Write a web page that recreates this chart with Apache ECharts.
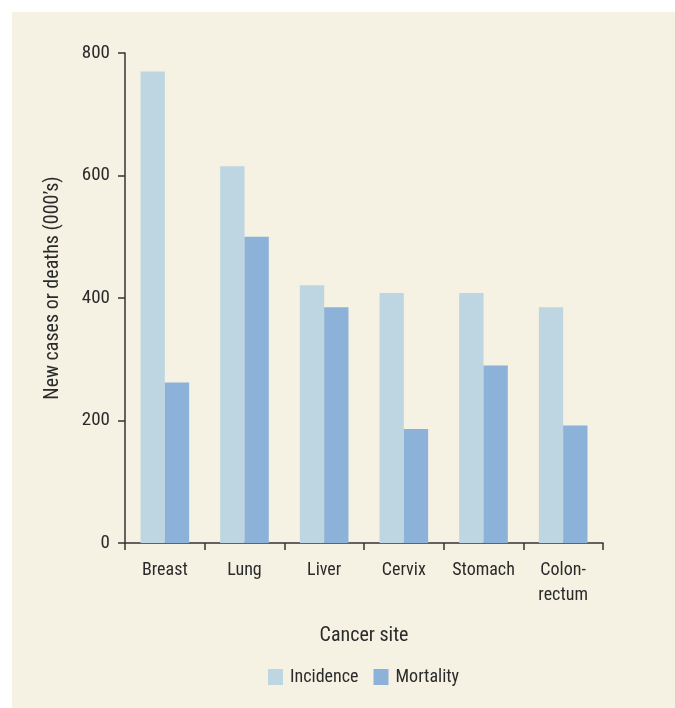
<!DOCTYPE html>
<html>
<head>
<meta charset="utf-8">
<script src="https://cdn.jsdelivr.net/npm/echarts@6/dist/echarts.min.js"></script>
<style>
html,body{margin:0;padding:0;background:#ffffff;}
#chart{width:675px;height:708px;}
</style>
</head>
<body>
<div id="chart"></div>
<script>
const categories = ['Breast', 'Lung', 'Liver', 'Cervix', 'Stomach', 'Colon-\nrectum'];
const incidence = [770, 615, 421, 408, 408, 385];
const mortality = [262, 500, 385, 186, 290, 192];
const yTicks = [0, 200, 400, 600, 800];

const FONT = '"Roboto Condensed", "Liberation Sans", sans-serif';
const TXT = '#2b2b2b';
const chart = echarts.init(document.getElementById('chart'));
chart.setOption({
  backgroundColor: '#ffffff',
  animation: false,
  textStyle: { fontFamily: FONT },
  graphic: [{
    type: 'rect', silent: true, z: -10,
    shape: { x: 12, y: 12, width: 663, height: 696 },
    style: { fill: '#f5f1e3' }
  }],
  grid: { left: 125, right: 72, top: 53, bottom: 165 },
  legend: {
    top: 663,
    left: 263,
    itemWidth: 15, itemHeight: 16, itemGap: 15,
    icon: 'rect',
    textStyle: { fontFamily: FONT, fontSize: 18, color: TXT, padding: [0, 0, 0, 2] },
    data: ['Incidence', 'Mortality']
  },
  xAxis: {
    type: 'category',
    data: categories,
    name: 'Cancer site',
    nameLocation: 'middle',
    nameGap: 83,
    nameTextStyle: { fontFamily: FONT, fontSize: 20, color: TXT },
    axisLine: { lineStyle: { color: '#333333', width: 1.5 } },
    axisTick: { show: true, length: 7, inside: false, lineStyle: { color: '#333333', width: 1.5 } },
    axisLabel: { interval: 0, fontFamily: FONT, fontSize: 18, color: TXT, margin: 15, lineHeight: 25 }
  },
  yAxis: {
    type: 'value',
    min: 0, max: 800, interval: 200,
    name: 'New cases or deaths (000\u2019s)',
    nameLocation: 'middle',
    nameGap: 62,
    nameTextStyle: { fontFamily: FONT, fontSize: 20, color: TXT, padding: [0, 0, 0, 20] },
    splitLine: { show: false },
    axisLine: { show: true, lineStyle: { color: '#333333', width: 1.5 } },
    axisTick: { show: true, length: 7, lineStyle: { color: '#333333', width: 1.5 } },
    axisLabel: {
      fontFamily: FONT, fontSize: 19, color: TXT, margin: 15,
      formatter: v => yTicks.includes(v) ? String(v) : ''
    }
  },
  series: [
    { name: 'Incidence', type: 'bar', data: incidence, barGap: '0%', barCategoryGap: '39%',
      itemStyle: { color: '#bdd6e1' } },
    { name: 'Mortality', type: 'bar', data: mortality, barGap: '0%', barCategoryGap: '39%',
      itemStyle: { color: '#8cb2d9' } }
  ]
});
</script>
</body>
</html>
